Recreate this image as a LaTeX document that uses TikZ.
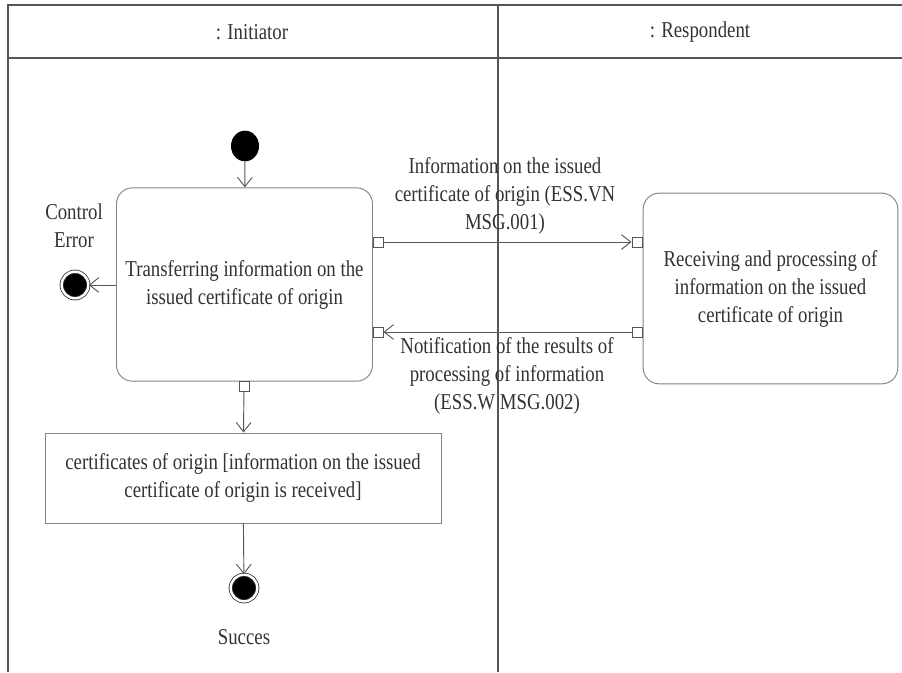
\documentclass[tikz,border=0pt]{standalone}
\usepackage{fontspec}
\setmainfont{Liberation Serif}[FakeStretch=0.83]
\usetikzlibrary{calc,arrows.meta}
\definecolor{frameline}{RGB}{85,85,85}
\definecolor{boxline}{RGB}{130,130,130}
\definecolor{ink}{RGB}{50,50,50}
\tikzset{
    action/.style={
            draw=boxline,
            line width=0.7pt,
            rounded corners=12pt,
            align=center,
            text=ink,
            inner sep=0pt, % size comes from minimum width/height
            minimum width={#1}
        },
    action/.default={192pt}
}
\tikzset{
    objbox/.style={
            draw=boxline,
            line width=0.7pt,
            align=center,
            text=ink,
            inner sep=0pt,
            minimum width=297pt,
            minimum height=67.5pt
        }
}
\tikzset{
    pinbox/.style={
            draw=frameline,
            line width=0.7pt,
            fill=white,
            inner sep=0pt,
            minimum size=7.5pt
        }
}
\tikzset{
    flow/.style={
            draw=frameline,
            line width=0.7pt,
            -{Straight Barb[length=7pt,width=11pt]}
        }
}
\tikzset{
    startdot/.style={
            ellipse,
            fill=black,
            inner sep=0pt,
            minimum width=21pt,
            minimum height=23pt
        }
}
\tikzset{
    enddot/.style={
            circle,
            draw=black!80,
            line width=0.6pt,
            fill=black,
            double=white,
            double distance=1.8pt,
            inner sep=0pt,
            minimum size=20pt
        }
}
\tikzset{
    lbl/.style={
            align=center,
            text=ink,
            inner sep=1pt
        }
}
\usetikzlibrary{shapes.geometric}

\begin{document}
\begin{tikzpicture}[x=0.75pt, y=-0.75pt, font=\fontsize{17}{21}\selectfont]
    \useasboundingbox (0,0) rectangle (902,672);
    %
    % swimlanes
    \draw[frameline, line width=0.9pt]
    (902,5) -- (8,5) -- (8,672)
    (8,58) -- (902,58)
    (498,5) -- (498,672)
    ;
    \node[lbl] (initiator) at (252,32) {: Initiator};
    \node[lbl] (respondent) at (700,32) {: Respondent};
    %
    % actions
    \node[action, minimum height=145pt] (transfer) at (244.5,284.5)
    {Transferring information on the\\issued certificate of origin};
    \node[action=191pt, minimum height=143pt] (receive) at (770.5,288.5)
    {Receiving and processing of\\information on the issued\\certificate of origin};
    \node[objbox] (cert) at (243,478)
    {certificates of origin [information on the issued\\certificate of origin is received]};
    %
    % pins
    \node[pinbox] (out1) at (378,242) {};
    \node[pinbox] (in1) at (637,242) {};
    \node[pinbox] (out2) at (637,332) {};
    \node[pinbox] (in2) at (378,332) {};
    \node[pinbox] (out3) at (244,386) {};
    %
    % initial and final nodes
    \node[startdot] (start) at (245,146) {};
    \node[enddot] (errend) at (75,285) {};
    \node[enddot] (okend) at (244,588) {};
    \node[lbl] (errlbl) at (74,226) {Control\\Error};
    \node[lbl] (oklbl) at (244,637) {Succes};
    %
    % flows
    \path
    (start) edge[flow] (transfer)
    (transfer.west |- errend) edge[flow] (errend)
    (out1) edge[flow] (in1)
    (out2) edge[flow] (in2)
    (out3) edge[flow] (cert)
    (cert) edge[flow] (okend)
    ;
    %
    % message labels
    \node[lbl] (msgone) at (505,196)
    {Information on the issued\\certificate of origin (ESS.VN\\MSG.001)};
    \node[lbl] (msgtwo) at (507,376)
    {Notification of the results of\\processing of information\\(ESS.W MSG.002)};
\end{tikzpicture}
\end{document}
